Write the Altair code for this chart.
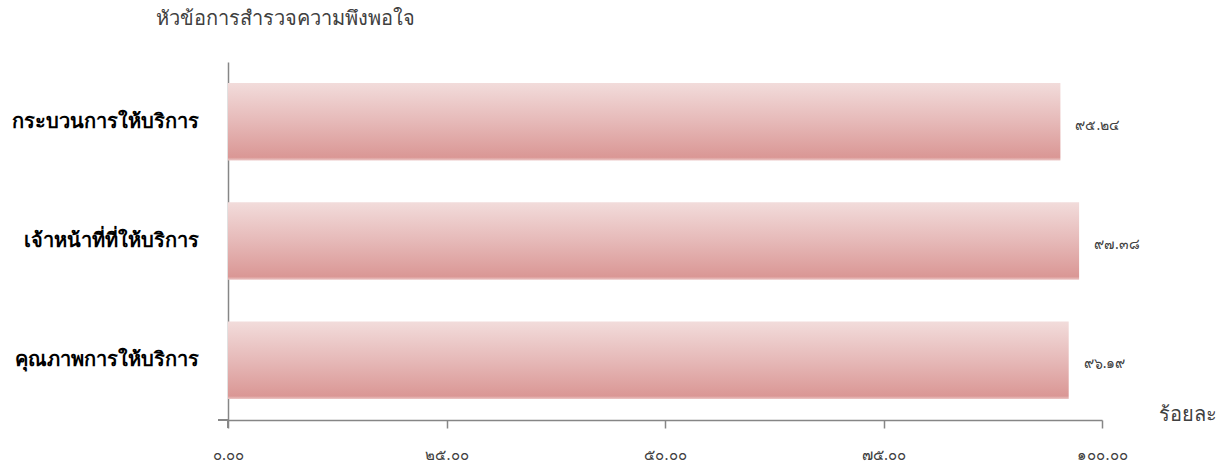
import altair as alt
import pandas as pd

# Survey topics and satisfaction percentages
topics = ["กระบวนการให้บริการ", "เจ้าหน้าที่ที่ให้บริการ", "คุณภาพการให้บริการ"]
scores = [95.24, 97.38, 96.19]

tick_values = [0, 25, 50, 75, 100]
tick_labels = ["๐.๐๐", "๒๕.๐๐", "๕๐.๐๐", "๗๕.๐๐", "๑๐๐.๐๐"]

thai_digits = str.maketrans("0123456789", "๐๑๒๓๔๕๖๗๘๙")

df = pd.DataFrame({
    "topic": topics,
    "score": scores,
    "label": [f"{v:.2f}".translate(thai_digits) for v in scores],
})

label_expr = " : ".join(
    f"datum.value == {v} ? '{t}'" for v, t in zip(tick_values, tick_labels)
) + " : ''"

font = "Noto Sans"
axis_grey = "#868686"
text_grey = "#404040"

bar_fill = alt.Gradient(
    gradient="linear",
    x1=0, x2=0, y1=0, y2=1,
    stops=[
        alt.GradientStop(color="#f2dcdb", offset=0),
        alt.GradientStop(color="#e6b9b8", offset=0.5),
        alt.GradientStop(color="#da9795", offset=0.96),
        alt.GradientStop(color="#ecc8c7", offset=1),
    ],
)

y_enc = alt.Y(
    "topic:N",
    sort=topics,
    scale=alt.Scale(paddingInner=0.35, paddingOuter=0.175),
    axis=alt.Axis(
        title="หัวข้อการสำรวจความพึงพอใจ",
        titleAngle=0,
        titleAlign="left",
        titleBaseline="middle",
        titleX=-73,
        titleY=-44,
        titleFont=font,
        titleFontSize=20,
        titleFontWeight="normal",
        titleColor=text_grey,
        labelFont=font,
        labelFontSize=20,
        labelFontWeight="bold",
        labelColor="#000000",
        labelPadding=30,
        labelLimit=400,
        ticks=False,
        grid=False,
        domainColor=axis_grey,
        domainWidth=1.5,
    ),
)

x_enc = alt.X(
    "score:Q",
    scale=alt.Scale(domain=[0, 100], nice=False),
    axis=alt.Axis(
        values=tick_values,
        labelExpr=label_expr,
        labelFlush=False,
        title="ร้อยละ",
        titleAlign="left",
        titleBaseline="middle",
        titleX=930,
        titleY=-6,
        titleFont=font,
        titleFontSize=20,
        titleFontWeight="normal",
        titleColor=text_grey,
        labelFont=font,
        labelFontSize=15,
        labelColor=text_grey,
        labelPadding=19,
        tickSize=8,
        tickColor=axis_grey,
        tickWidth=1.5,
        domainColor=axis_grey,
        domainWidth=1.5,
        grid=False,
    ),
)

bars = alt.Chart(df).mark_bar(color=bar_fill).encode(x=x_enc, y=y_enc)

labels = alt.Chart(df).mark_text(
    align="left", baseline="middle", dx=15, dy=4,
    font=font, fontSize=14, color=text_grey,
).encode(
    x=alt.X("score:Q"),
    y=alt.Y("topic:N", sort=topics),
    text="label:N",
)

# short stubs where the two axis lines cross below the origin
stub_h = alt.Chart(df).mark_rule(color=axis_grey, strokeWidth=1.5).encode(
    x=alt.value(-10), x2=alt.value(0), y=alt.value(358)
)
stub_v = alt.Chart(df).mark_rule(color=axis_grey, strokeWidth=1.5).encode(
    x=alt.value(0), y=alt.value(358), y2=alt.value(366)
)

chart = (
    alt.layer(bars, labels, stub_h, stub_v)
    .properties(
        width=874,
        height=358,
        background="#ffffff",
        autosize=alt.AutoSizeParams(type="none"),
        padding={"left": 228, "top": 62, "right": 122, "bottom": 48},
    )
    .configure_view(strokeWidth=0, stroke=None)
    .configure_axis(grid=False)
)

chart.save("out.html", embed_options={"renderer": "svg", "actions": False})
